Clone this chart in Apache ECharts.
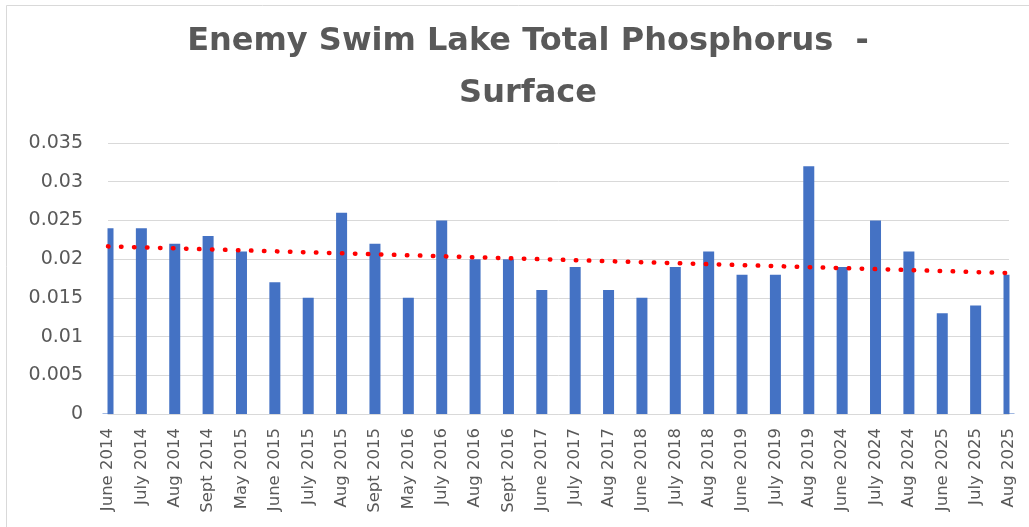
<!DOCTYPE html>
<html>
<head>
<meta charset="utf-8">
<script src="https://cdn.jsdelivr.net/npm/echarts@6/dist/echarts.min.js"></script>
<style>
html,body{margin:0;padding:0;background:#fff;}
#chart{width:1029px;height:527px;}
</style>
</head>
<body>
<div id="chart"></div>
<script>
const categories = ['June 2014','July 2014','Aug 2014','Sept 2014','May 2015','June 2015','July 2015','Aug 2015','Sept 2015','May 2016','July 2016','Aug 2016','Sept 2016','June 2017','July 2017','Aug 2017','June 2018','July 2018','Aug 2018','June 2019','July 2019','Aug 2019','June 2024','July 2024','Aug 2024','June 2025','July 2025','Aug 2025'];
const phosphorus = [0.024,0.024,0.022,0.023,0.021,0.017,0.015,0.026,0.022,0.015,0.025,0.020,0.020,0.016,0.019,0.016,0.015,0.019,0.021,0.018,0.018,0.032,0.019,0.025,0.021,0.013,0.014,0.018];
const yTicks = [0,0.005,0.01,0.015,0.02,0.025,0.03,0.035];
const titleLines = ['Enemy Swim Lake Total Phosphorus  -','Surface'];

// linear trendline (least squares) as in the spreadsheet
const n = phosphorus.length;
const mx = (n - 1) / 2;
const my = phosphorus.reduce((a, b) => a + b, 0) / n;
let sxy = 0, sxx = 0;
phosphorus.forEach((v, i) => { sxy += (i - mx) * (v - my); sxx += (i - mx) * (i - mx); });
const slope = sxy / sxx;
const trend = phosphorus.map((v, i) => my + slope * (i - mx));

const GL = 108, GR = 1009, GT = 143, GB = 414;
const chart = echarts.init(document.getElementById('chart'));
chart.setOption({
  backgroundColor: '#ffffff',
  animation: false,
  title: {
    text: titleLines.join('\n'),
    left: 523,
    top: 11,
    textAlign: 'center',
    textStyle: {fontFamily: 'DejaVu Sans', fontSize: 32, fontWeight: 'bold', color: '#595959', lineHeight: 52}
  },
  graphic: [{
    type: 'rect', silent: true, z: 0,
    shape: {x: 6.5, y: 5.5, width: 1100, height: 600},
    style: {fill: 'none', stroke: '#d9d9d9', lineWidth: 1}
  }, {
    // plot-area clipping of the edge bars
    type: 'rect', silent: true, z: 3,
    shape: {x: GL - 20, y: GT - 5, width: 19.5, height: GB - GT + 4.5},
    style: {fill: '#ffffff'}
  }, {
    type: 'rect', silent: true, z: 3,
    shape: {x: GR + 0.5, y: GT - 5, width: 19, height: GB - GT + 4.5},
    style: {fill: '#ffffff'}
  }],
  grid: {left: GL, right: 1029 - GR, top: GT, bottom: 527 - GB, containLabel: false},
  xAxis: {
    type: 'category',
    data: categories,
    boundaryGap: false,
    axisLine: {show: true, lineStyle: {color: '#d9d9d9', width: 1}},
    axisTick: {show: false},
    splitLine: {show: false},
    axisLabel: {rotate: 90, interval: 0, margin: 14, color: '#595959', fontFamily: 'DejaVu Sans', fontSize: 16.5}
  },
  yAxis: {
    type: 'value',
    min: yTicks[0],
    max: yTicks[yTicks.length - 1],
    interval: 0.005,
    axisLine: {show: false},
    axisTick: {show: false},
    splitLine: {show: true, lineStyle: {color: '#d9d9d9', width: 1}},
    axisLabel: {margin: 25, color: '#595959', fontFamily: 'DejaVu Sans', fontSize: 19,
      formatter: v => String(parseFloat(v.toFixed(3)))}
  },
  series: [{
    type: 'bar',
    data: phosphorus,
    barWidth: 11,
    z: 2,
    itemStyle: {color: '#4472C4'}
  }, {
    type: 'line',
    data: trend,
    symbol: 'none',
    z: 5,
    lineStyle: {color: '#ff0000', width: 4.5, type: [0.5, 12.5], cap: 'round'}
  }]
});
</script>
</body>
</html>
